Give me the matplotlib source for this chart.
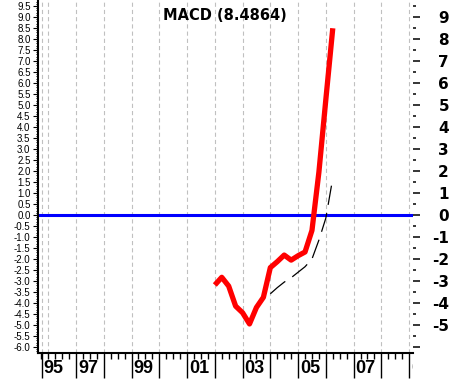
import matplotlib.pyplot as plt
import numpy as np
from matplotlib.transforms import ScaledTranslation, Bbox, TransformedBbox

plt.rcParams['axes.unicode_minus'] = False
plt.rcParams['lines.scale_dashes'] = False

# quarterly MACD values
macd_dates = [2002.0, 2002.25, 2002.5, 2002.75, 2003.0, 2003.25, 2003.5, 2003.75,
              2004.0, 2004.25, 2004.5, 2004.75, 2005.0, 2005.25, 2005.5, 2005.75,
              2006.0, 2006.25]
macd = [-3.18, -2.83, -3.23, -4.14, -4.44, -4.95, -4.20, -3.74,
        -2.39, -2.12, -1.82, -2.05, -1.85, -1.68, -0.70, 1.95,
        5.25, 8.4864]

signal_dates = [2004.0, 2004.25, 2004.5, 2004.75, 2005.0, 2005.25, 2005.5, 2005.75,
                2006.0, 2006.25]
signal = [-3.58, -3.30, -3.05, -2.85, -2.60, -2.35, -2.00, -1.14, -0.14, 1.68]

x_start, x_end = 1995.63, 2009.14
first_tick = 1995.757
year_ticks = list(range(1997, 2010))
year_labels = ['95', '97', '99', '01', '03', '05', '07', '09']
label_pos = [first_tick, 1997, 1999, 2001, 2003, 2005, 2007, 2009]

fig = plt.figure(figsize=(4.51, 3.79), dpi=100)
ax = fig.add_axes([38 / 451, 26 / 379, 375 / 451, 353 / 379])
ax.set_xlim(x_start, x_end)
ax.set_ylim(-6.27, 9.77)

# vertical dashed grid
grid_x = [first_tick] + list(range(1996, 2010))
for gx in grid_x:
    ax.axvline(gx, color='#c0c0c0', lw=0.8, linestyle=(0, (3, 2.2)), zorder=1)

ax.axhline(0, color='#0000ff', lw=2.2, zorder=2)
ax.plot(signal_dates, signal, color='black', lw=0.9, dashes=(14, 6), zorder=3)
ax.plot(macd_dates, macd, color='#ff0000', lw=3.8, zorder=4, solid_capstyle='butt')

ax.text(0.499, 0.957, 'MACD (8.4864)', transform=ax.transAxes, ha='center', va='center',
        fontsize=10.5, fontweight='bold', family='DejaVu Sans')

# left axis
ax.set_yticks(np.arange(-6, 9.51, 0.5))
ax.set_yticklabels(['%.1f' % v for v in np.arange(-6, 9.51, 0.5)],
                   family='Liberation Sans', fontsize=7)
ax.set_yticks(np.arange(-6.2, 9.75, 0.1), minor=True)
ax.tick_params(axis='y', which='major', length=3.6, width=0.8, pad=1.8)
ax.tick_params(axis='y', which='minor', length=1.8, width=0.7)

# bottom axis
ax.set_xticks([first_tick] + year_ticks)
ax.set_xticks([q for q in np.arange(1995.75, 2009.2, 0.25)
               if abs(q - round(q)) > 0.01 or round(q) == 1996], minor=True)
ax.tick_params(axis='x', which='major', length=18, width=1.0, labelbottom=False)
ax.tick_params(axis='x', which='minor', length=4.3, width=1.0)

for s in ['top', 'right']:
    ax.spines[s].set_visible(False)
ax.spines['left'].set_linewidth(1.5)
ax.spines['bottom'].set_linewidth(1.5)

clip = TransformedBbox(Bbox([[0, 0], [413 / 451, 1]]), fig.transFigure)
offset = ScaledTranslation(2 / 100, -7 / 100, fig.dpi_scale_trans)
for pos, lab in zip(label_pos, year_labels):
    t = ax.text(pos, 0, lab, transform=ax.get_xaxis_transform() + offset,
                ha='left', va='top', fontsize=13, fontweight='bold',
                family='Liberation Sans', clip_on=True)
    t.set_clip_box(clip)

# right axis
ax2 = ax.twinx()
ax2.set_ylim(ax.get_ylim())
right_ticks = list(range(-6, 10))
ax2.set_yticks(right_ticks)
ax2.set_yticklabels([str(v) if v > -6 else '' for v in right_ticks],
                    fontsize=11, fontweight='bold', family='DejaVu Sans')
ax2.set_yticks(np.arange(-5.5, 9.6, 1.0), minor=True)
ax2.tick_params(axis='y', which='major', length=5, width=1.1, pad=20.9)
ax2.tick_params(axis='y', which='minor', length=2.2, width=1.1)
for lbl in ax2.get_yticklabels():
    lbl.set_horizontalalignment('right')
for s in ax2.spines.values():
    s.set_visible(False)

fig.savefig('out.png', dpi=100)
